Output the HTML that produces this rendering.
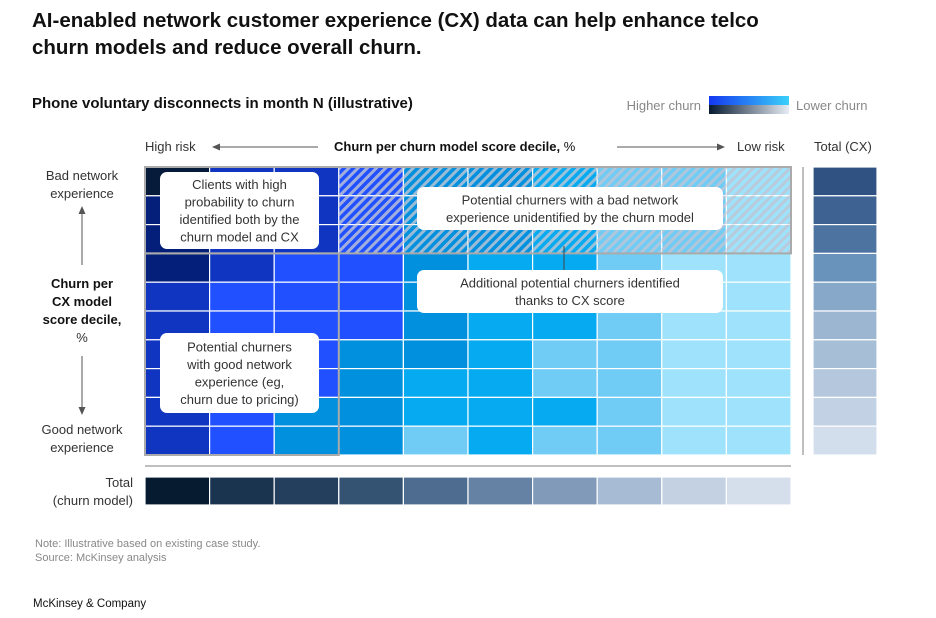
<!DOCTYPE html>
<html><head><meta charset="utf-8">
<style>
body{margin:0;background:#fff;font-family:"Liberation Sans",sans-serif;}
#wrap{position:relative;width:936px;height:618px;overflow:hidden;}
svg text{font-family:"Liberation Sans",sans-serif;}
</style></head>
<body>
<div id="wrap">
<svg id="svg" width="936" height="618" xmlns="http://www.w3.org/2000/svg">
<defs>
<pattern id="hatch" patternUnits="userSpaceOnUse" width="6.5" height="6.5" patternTransform="rotate(45)">
<rect x="0" y="0" width="3" height="6.5" fill="rgba(190,196,212,0.82)"/>
</pattern>
<linearGradient id="lg1" x1="0" x2="1"><stop offset="0" stop-color="#1438f0"/><stop offset="1" stop-color="#3ad0fa"/></linearGradient>
<linearGradient id="lg2" x1="0" x2="1"><stop offset="0" stop-color="#061a30"/><stop offset="1" stop-color="#e6ecf5"/></linearGradient>
</defs>
<text x="32" y="27" font-size="20.5" font-weight="bold" fill="#111">AI-enabled network customer experience (CX) data can help enhance telco</text>
<text x="32" y="54" font-size="20.5" font-weight="bold" fill="#111">churn models and reduce overall churn.</text>
<text x="32" y="108" font-size="15" font-weight="bold" fill="#111">Phone voluntary disconnects in month N (illustrative)</text>
<g>
<text x="701" y="110" font-size="13" fill="#888" text-anchor="end">Higher churn</text>
<rect x="709" y="96" width="80" height="9" fill="url(#lg1)"/>
<rect x="709" y="105" width="80" height="9" fill="url(#lg2)"/>
<text x="796" y="110" font-size="13" fill="#888">Lower churn</text>
</g>
<text x="145" y="151" font-size="13" fill="#333">High risk</text>
<line x1="213" y1="147" x2="318" y2="147" stroke="#555" stroke-width="1"/>
<polygon points="212,147 220,143.5 220,150.5" fill="#555"/>
<text x="334" y="151" font-size="13" fill="#111"><tspan font-weight="bold">Churn per churn model score decile,</tspan> %</text>
<line x1="617" y1="147" x2="720" y2="147" stroke="#555" stroke-width="1"/>
<polygon points="725,147 717,143.5 717,150.5" fill="#555"/>
<text x="737" y="151" font-size="13" fill="#333">Low risk</text>
<text x="814" y="151" font-size="13" fill="#333">Total (CX)</text>
<g font-size="13" fill="#333" text-anchor="middle">
<text x="82" y="180">Bad network</text>
<text x="82" y="198">experience</text>
<text x="82" y="288" font-weight="bold" fill="#111">Churn per</text>
<text x="82" y="306" font-weight="bold" fill="#111">CX model</text>
<text x="82" y="324" font-weight="bold" fill="#111">score decile,</text>
<text x="82" y="342">%</text>
<text x="82" y="434">Good network</text>
<text x="82" y="452">experience</text>
<text x="133" y="487" text-anchor="end">Total</text>
<text x="133" y="505" text-anchor="end">(churn model)</text>
</g>
<line x1="82" y1="212" x2="82" y2="265" stroke="#555"/>
<polygon points="82,206 78.5,214 85.5,214" fill="#555"/>
<line x1="82" y1="356" x2="82" y2="410" stroke="#555"/>
<polygon points="82,415 78.5,407 85.5,407" fill="#555"/>
<g id="grid"></g>
<line x1="145" y1="466" x2="791" y2="466" stroke="#aaa" stroke-width="1.5"/>
<line x1="803" y1="167" x2="803" y2="455" stroke="#aaa" stroke-width="1.5"/>
<g id="annot"></g>
<text x="35" y="547" font-size="11" fill="#888">Note: Illustrative based on existing case study.</text>
<text x="35" y="561" font-size="11" fill="#888">Source: McKinsey analysis</text>
<text x="33" y="607" font-size="11.5" fill="#111">McKinsey &amp; Company</text>
</svg>
</div>
<script>
// heatmap level data (0 = highest churn, 7 = lowest churn), rows: CX decile (bad -> good), cols: model decile (high -> low risk)
const cellLevels = [
[0,2,2,3,4,4,5,6,6,7],
[1,2,2,3,4,4,5,6,6,7],
[1,2,2,3,4,4,5,6,6,7],
[1,2,3,3,4,5,5,6,7,7],
[2,3,3,3,4,5,5,6,7,7],
[2,3,3,3,4,5,5,6,7,7],
[2,3,3,4,4,5,6,6,7,7],
[2,3,3,4,5,5,6,6,7,7],
[2,3,4,4,5,5,5,6,7,7],
[2,3,4,4,6,5,6,6,7,7]
];
const levelColors = ["#061a3a","#031f7a","#1035c0","#2050ff","#0090dd","#05aaf0","#70cbf5","#9ee3fb"];
const totalModel = [10,8.6,8.0,7.0,5.6,4.6,3.6,2.2,1.2,0.6];
const totalCX = [8.2,7.6,7.0,5.9,4.9,4.2,3.8,3.2,2.5,1.7];
const hatchRows = 3, hatchFromCol = 3;

const x0=145, y0=167, cw=64.6, ch=28.8;
const xPos = c => x0 + c*cw;
const yPos = r => y0 + r*ch;
function hex(h){return [1,3,5].map(i=>parseInt(h.substr(i,2),16));}
function mix(a,b,t){const A=hex(a),B=hex(b);return "rgb("+A.map((v,i)=>Math.round(v+(B[i]-v)*t)).join(",")+")";}
function modelColor(v){const t=Math.max(0,Math.min(1,1-v/10));const stops=["#061a30","#2a4868","#5a789c","#a0b4d0","#e6ecf5"];const s=Math.min(3.999,t*4);const i=Math.floor(s);return mix(stops[i],stops[i+1],s-i);}
const cxMax=Math.max(...totalCX), cxMin=Math.min(...totalCX);
function cxColor(v){const t=(cxMax-v)/(cxMax-cxMin||1);const stops=["#2f5283","#6590b8","#a6bdd6","#d2deec"];const s=Math.min(2.999,Math.max(0,t*3));const i=Math.floor(s);return mix(stops[i],stops[i+1],s-i);}
const NS="http://www.w3.org/2000/svg";
const grid=document.getElementById('grid');
function mk(tag,attrs,parent){const e=document.createElementNS(NS,tag);for(const k in attrs)e.setAttribute(k,attrs[k]);parent.appendChild(e);return e;}
cellLevels.forEach((row,r)=>row.forEach((lv,c)=>{
  const e=mk('rect',{x:xPos(c),y:yPos(r),width:cw,height:ch,fill:levelColors[lv],stroke:'#fff','stroke-width':1.2},grid);
  
  
  if(r<hatchRows && c>=hatchFromCol){
    const h=mk('rect',{x:xPos(c),y:yPos(r),width:cw,height:ch,fill:'url(#hatch)'},grid);
    
    
  }
}));
totalModel.forEach((v,c)=>{
  const e=mk('rect',{x:xPos(c),y:477,width:cw,height:28,fill:modelColor(v),stroke:'#fff','stroke-width':1.2},grid);
  
  
});
totalCX.forEach((v,r)=>{
  const e=mk('rect',{x:813,y:yPos(r),width:64,height:ch,fill:cxColor(v),stroke:'#fff','stroke-width':1.2},grid);
  
  
});
const b1=mk('rect',{x:xPos(0),y:yPos(0),width:cw*10,height:ch*3,fill:'none',stroke:'#aaa','stroke-width':2},grid);


const b2=mk('rect',{x:xPos(0),y:yPos(3),width:cw*3,height:ch*7,fill:'none',stroke:'#aaa','stroke-width':2},grid);


const ann=document.getElementById('annot');
const ln=mk('line',{x1:564,y1:246,x2:564,y2:270,stroke:'#444','stroke-width':1},ann);


const boxes=[
 {name:'callout-high-probability',x:160,y:172,w:159,h:77,lines:["Clients with high","probability to churn","identified both by the","churn model and CX"]},
 {name:'callout-bad-network',x:417,y:187,w:306,h:43,lines:["Potential churners with a bad network","experience  unidentified by the churn model"]},
 {name:'callout-additional',x:417,y:270,w:306,h:43,lines:["Additional potential churners identified","thanks to CX score"]},
 {name:'callout-good-network',x:160,y:333,w:159,h:80,lines:["Potential churners","with good network","experience (eg,","churn due to pricing)"]}
];
boxes.forEach(b=>{
  const g=mk('g',{},ann);
  
  
  mk('rect',{x:b.x,y:b.y,width:b.w,height:b.h,rx:7,fill:'#fff'},g);
  const n=b.lines.length, lh=17.5, start=b.y+b.h/2-(n-1)*lh/2+4.5;
  b.lines.forEach((t,i)=>{const e=mk('text',{x:b.x+b.w/2,y:start+i*lh,'font-size':13,fill:'#333','text-anchor':'middle'},g);e.textContent=t;});
});
</script>
</body></html>
